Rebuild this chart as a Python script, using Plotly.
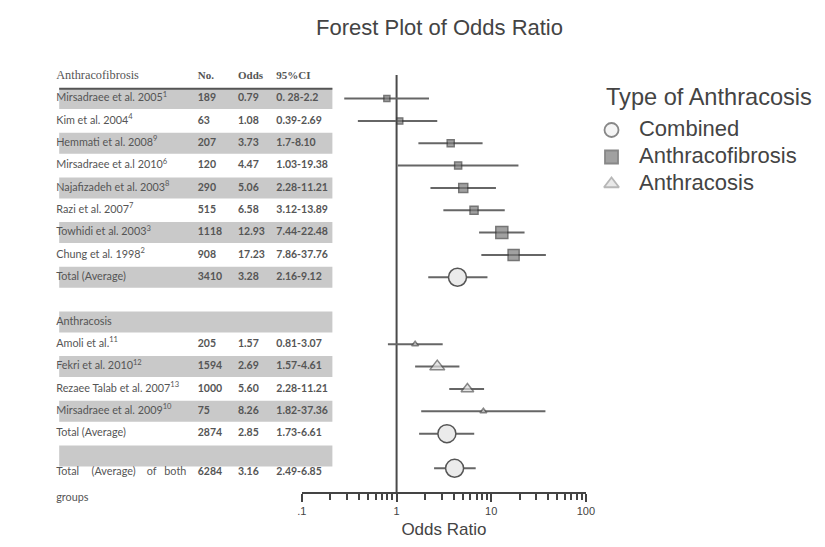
import plotly.graph_objects as go

# ---------------- data ----------------
af_names = ["Mirsadraee et al. 2005<sup>1</sup>", "Kim et al. 2004<sup>4</sup>",
            "Hemmati et al. 2008<sup>9</sup>", "Mirsadraee et a.l 2010<sup>6</sup>",
            "Najafizadeh et al. 2003<sup>8</sup>", "Razi et al. 2007<sup>7</sup>",
            "Towhidi et al. 2003<sup>3</sup>", "Chung et al. 1998<sup>2</sup>"]
af_n = [189, 63, 207, 120, 290, 515, 1118, 908]
af_odds = [0.79, 1.08, 3.73, 4.47, 5.06, 6.58, 12.93, 17.23]
af_ci_text = ["0. 28-2.2", "0.39-2.69", "1.7-8.10", "1.03-19.38",
              "2.28-11.21", "3.12-13.89", "7.44-22.48", "7.86-37.76"]
af_ci_lo = [0.28, 0.39, 1.7, 1.03, 2.28, 3.12, 7.44, 7.86]
af_ci_hi = [2.2, 2.69, 8.10, 19.38, 11.21, 13.89, 22.48, 37.76]

ac_names = ["Amoli et al.<sup>11</sup>", "Fekri et al. 2010<sup>12</sup>",
            "Rezaee Talab et al. 2007<sup>13</sup>", "Mirsadraee et al. 2009<sup>10</sup>"]
ac_n = [205, 1594, 1000, 75]
ac_odds = [1.57, 2.69, 5.60, 8.26]
ac_ci_text = ["0.81-3.07", "1.57-4.61", "2.28-11.21", "1.82-37.36"]
ac_ci_lo = [0.81, 1.57, 3.6, 1.82]      # plotted interval as drawn
ac_ci_hi = [3.07, 4.61, 8.4, 37.36]

tot_names = ["Total (Average)", "Total (Average)"]
tot_n = [3410, 2874, 6284]
tot_odds_text = ["3.28", "2.85", "3.16"]
tot_ci_text = ["2.16-9.12", "1.73-6.61", "2.49-6.85"]
tot_point = [4.4, 3.4, 4.1]            # centre of the plotted symbol
tot_ci_lo = [2.16, 1.73, 2.49]
tot_ci_hi = [9.12, 6.61, 6.85]

legend_title = "Type of Anthracosis"
legend_names = ["Combined", "Anthracofibrosis", "Anthracosis"]

tick_vals = [0.1, 1, 10, 100]
tick_text = [".1", "1", "10", "100"]

# ---------------- style / layout constants ----------------
af_msize = [6, 6, 7, 7, 9, 8, 12, 11]
ac_msize = [6, 13, 11, 6]
OFF = 8                      # page body margin
W, H = 825 - 2 * OFF, 547 - 2 * OFF
TXT = "#555555"
SANS = "Lato, 'Open Sans', sans-serif"
SERIF = "'Liberation Serif', 'DejaVu Serif', serif"
ARIAL = "'Liberation Sans', Arial, sans-serif"

def fx(px):   # page x pixel -> paper fraction
    return min(1.0, max(0.0, (px - OFF) / W))

def fy(py):   # page y pixel -> paper fraction
    return min(1.0, max(0.0, 1 - (py - OFF) / H))

# row geometry: row r sits at page y = ROW0 + ROWH * r
ROW0, ROWH = 76.2, 22.34
def row_of(py):
    return (py - ROW0) / ROWH

# table row structure (row index = position in table)
af_rows = list(range(1, 9))
af_total_row = 9
ac_header_row = 11
ac_rows = list(range(12, 16))
ac_total_row = 16
both_row = 17.75          # two-line cell, text sits at its top
both_mark = 17.55
shaded_rows = [1, 3, 5, 7, 9, 11, 13, 15, 17]

# column positions in table coordinates (1 unit = 1 px, 0 = left of bands)
COL_NAME, COL_N, COL_OR, COL_CI = -3, 141, 182, 221
TABLE_W = 278

fig = go.Figure()

# gray row bands
fig.add_trace(go.Bar(x=[TABLE_W] * len(shaded_rows), y=shaded_rows, base=0,
                     orientation="h", width=0.94, marker_color="#c9c9c9",
                     marker_line_width=0, xaxis="x2", yaxis="y",
                     showlegend=False, hoverinfo="skip"))
# header rule
fig.add_trace(go.Scatter(x=[0, TABLE_W], y=[0.56, 0.56], mode="lines",
                         line=dict(color="#555555", width=2), xaxis="x2",
                         showlegend=False, hoverinfo="skip"))

def text_trace(xs, ys, texts, family=SANS, size=10.8, weight="normal", color=TXT,
               xaxis="x2", yaxis="y"):
    fig.add_trace(go.Scatter(x=xs, y=ys, text=texts, mode="text",
                             textposition="middle right", cliponaxis=False,
                             textfont=dict(family=family, size=size, color=color,
                                           weight=weight),
                             xaxis=xaxis, yaxis=yaxis, showlegend=False,
                             hoverinfo="skip"))

# header
text_trace([COL_NAME], [0], ["Anthracofibrosis"], family=SERIF, size=12.3)
text_trace([COL_N, COL_OR, COL_CI], [0, 0, 0], ["No.", "Odds", "95%CI"],
           family=SERIF, size=11, weight="bold")

# names
name_rows = af_rows + [af_total_row, ac_header_row] + ac_rows + [ac_total_row]
name_texts = af_names + [tot_names[0], "Anthracosis"] + ac_names + [tot_names[1]]
text_trace([COL_NAME] * len(name_rows), name_rows, name_texts)
text_trace([-3, 33, 89, 107], [both_row] * 4, ["Total", "(Average)", "of", "both"])
text_trace([COL_NAME], [both_row + 1.15], ["groups"])

# numbers
num_rows = af_rows + [af_total_row] + ac_rows + [ac_total_row, both_row]
n_txt = [str(v) for v in af_n] + [str(tot_n[0])] + [str(v) for v in ac_n] + [str(tot_n[1]), str(tot_n[2])]
or_txt = [f"{v:.2f}" for v in af_odds] + [tot_odds_text[0]] + [f"{v:.2f}" for v in ac_odds] + tot_odds_text[1:]
ci_txt = af_ci_text + [tot_ci_text[0]] + ac_ci_text + tot_ci_text[1:]
text_trace([COL_N] * len(num_rows), num_rows, n_txt, size=10.5, weight="bold")
text_trace([COL_OR] * len(num_rows), num_rows, or_txt, size=10.5, weight="bold")
text_trace([COL_CI] * len(num_rows), num_rows, ci_txt, size=10.5, weight="bold")

# ---------------- forest part ----------------
AXIS_Y = 493                           # page y of the x-axis line
Y_TOP, Y_BOT = row_of(OFF), row_of(OFF + H)
# reference line at OR = 1
fig.add_trace(go.Scatter(x=[1, 1], y=[-0.05, row_of(AXIS_Y)], mode="lines",
                         line=dict(color="#4a4a4a", width=2), showlegend=False,
                         hoverinfo="skip"))

lo_all = af_ci_lo + [tot_ci_lo[0]] + ac_ci_lo + tot_ci_lo[1:]
hi_all = af_ci_hi + [tot_ci_hi[0]] + ac_ci_hi + tot_ci_hi[1:]
plot_rows = af_rows + [af_total_row] + ac_rows + [ac_total_row, both_mark]
lx, ly = [], []
for lo, hi, r in zip(lo_all, hi_all, plot_rows):
    lx += [lo, hi, None]
    ly += [r, r, None]
fig.add_trace(go.Scatter(x=lx, y=ly, mode="lines",
                         line=dict(color="#666666", width=2),
                         showlegend=False, hoverinfo="skip"))

fig.add_trace(go.Scatter(x=af_odds, y=af_rows, mode="markers",
                         marker=dict(symbol="square", size=af_msize, color="#7a7a7a",
                                     line=dict(color="#3c3c3c", width=1.5)),
                         showlegend=False))
fig.add_trace(go.Scatter(x=ac_odds, y=ac_rows, mode="markers",
                         marker=dict(symbol="triangle-up", size=ac_msize, color="#dcdcdc",
                                     line=dict(color="#555555", width=1.5)),
                         showlegend=False))
fig.add_trace(go.Scatter(x=tot_point, y=[af_total_row, ac_total_row, both_mark],
                         mode="markers",
                         marker=dict(symbol="circle", size=18, color="#ebebeb",
                                     line=dict(color="#555555", width=1.5)),
                         showlegend=False))

# ---------------- key (drawn in its own small panel) ----------------
leg_idx = list(range(len(legend_names)))
fig.add_trace(go.Scatter(x=[0.075] * 3, y=leg_idx, mode="markers", xaxis="x3", yaxis="y3",
                         marker=dict(symbol=["circle", "square", "triangle-up"],
                                     size=[14, 13, 13],
                                     color=["#f2f2f2", "#7a7a7a", "#e0e0e0"],
                                     line=dict(color=["#555555", "#555555", "#999999"],
                                               width=1.8)),
                         showlegend=False, hoverinfo="skip", cliponaxis=False))
text_trace([0.2056] * 3, leg_idx, legend_names, family=ARIAL, size=22,
           color="#444444", xaxis="x3", yaxis="y3")

fig.update_layout(
    width=W, height=H,
    margin=dict(l=0, r=0, t=0, b=0),
    paper_bgcolor="white", plot_bgcolor="rgba(0,0,0,0)",
    font=dict(family=ARIAL, color="#444444"),
    annotations=[
        dict(text="Forest Plot of Odds Ratio", x=fx(442), y=fy(28),
             xref="paper", yref="paper", showarrow=False,
             xanchor="center", yanchor="middle",
             font=dict(size=22, color="#444444", family=ARIAL)),
        dict(text=legend_title, x=fx(609), y=fy(97),
             xref="paper", yref="paper", showarrow=False,
             xanchor="left", yanchor="middle",
             font=dict(size=23.6, color="#444444", family=ARIAL)),
    ],
    xaxis=dict(type="log", range=[-1, 2], domain=[fx(302), fx(591)],
               anchor="free", position=fy(AXIS_Y),
               showgrid=False, zeroline=False, showline=True, linecolor="#444444",
               linewidth=2, ticks="outside", ticklen=8, tickwidth=1.5,
               tickcolor="#444444", tickvals=tick_vals, ticktext=tick_text,
               tickfont=dict(size=11, color="#444444"),
               minor=dict(tickvals=[0.2, 0.3, 0.4, 0.5, 0.6, 0.7, 0.8, 0.9,
                                    2, 3, 4, 5, 6, 7, 8, 9,
                                    20, 30, 40, 50, 60, 70, 80, 90],
                          ticks="outside", ticklen=6, tickwidth=1.5,
                          tickcolor="#444444", showgrid=False),
               title=dict(text="Odds Ratio", font=dict(size=17, color="#444444"),
                          standoff=6)),
    xaxis2=dict(range=[-10, 280], domain=[fx(45), fx(335)], anchor="y",
                visible=False, fixedrange=True),
    yaxis=dict(range=[Y_BOT, Y_TOP], domain=[0, 1], anchor="x",
               visible=False, fixedrange=True),
    xaxis3=dict(range=[0, 1], domain=[fx(601), fx(815)], anchor="y3",
                visible=False, fixedrange=True),
    yaxis3=dict(range=[2.5, -0.5], domain=[fy(197.5), fy(116.5)], anchor="x3",
                visible=False, fixedrange=True),
    showlegend=False,
)

fig.write_html("out.html")
